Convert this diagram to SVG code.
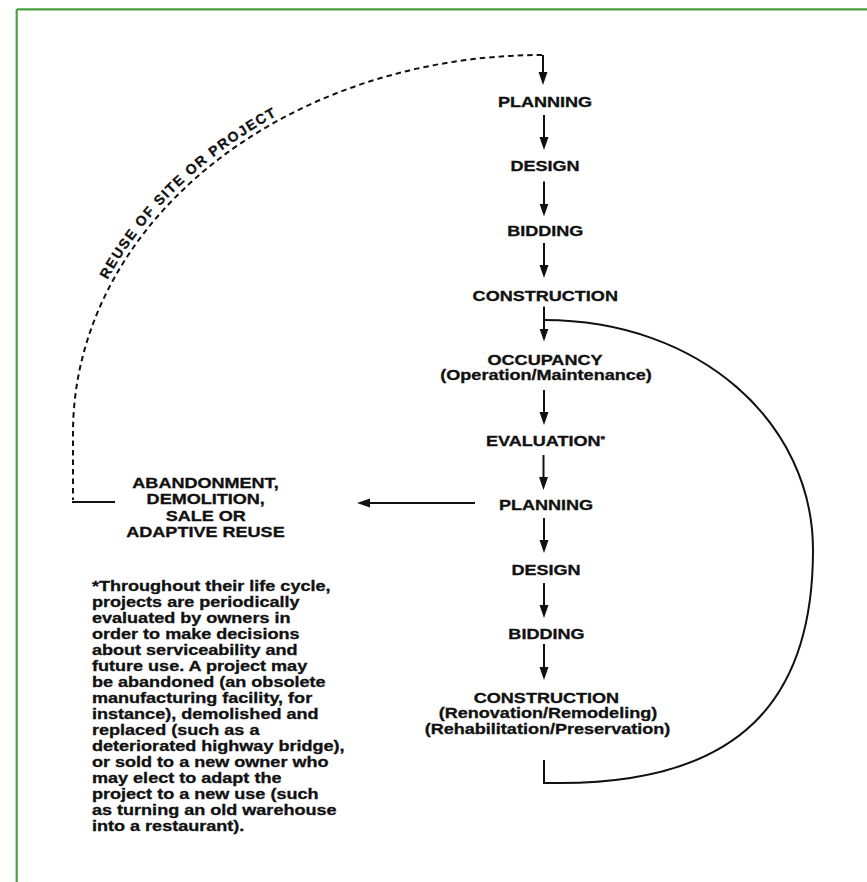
<svg xmlns="http://www.w3.org/2000/svg" width="867" height="882" viewBox="0 0 867 882">
<style>
.t{font-family:"Liberation Sans",Arial,Helvetica,sans-serif;font-weight:bold;font-size:14px;fill:#111;stroke:#111;stroke-width:0.3}
.c{text-anchor:middle}
.ln{stroke:#111;stroke-width:2;fill:none}
.dash{stroke:#111;stroke-width:2;fill:none;stroke-dasharray:5.5 4}
.arr{stroke:#111;stroke-width:2;fill:none;marker-end:url(#ah)}
</style>
<defs>
<marker id="ah" markerUnits="userSpaceOnUse" markerWidth="14" markerHeight="10" refX="5" refY="4.5" orient="auto">
<path d="M0,0 L13,4.5 L0,9 Z" fill="#111"/>
</marker>
<path id="arcText" d="M 68,433 A 474,383 0 0 1 542,50"/>
</defs>
<rect width="867" height="882" fill="#fff"/>
<g id="frame" stroke="#4a9f45" stroke-width="2.2" fill="none">
<line x1="16.7" y1="9.3" x2="867" y2="9.3"/>
<line x1="16.7" y1="9.3" x2="16.7" y2="882"/>
</g>
<g id="connectors">
<path class="dash" d="M 542,55 A 469,378 0 0 0 73,433 L 73,500"/>
<line class="ln" x1="72" y1="502" x2="115" y2="502"/>
<line class="arr" x1="543" y1="55" x2="543" y2="77"/>
<line class="arr" x1="544" y1="115" x2="544" y2="142"/>
<line class="arr" x1="544" y1="181.5" x2="544" y2="208.5"/>
<line class="arr" x1="544" y1="243" x2="544" y2="270"/>
<line class="arr" x1="544" y1="306.5" x2="544" y2="333.5"/>
<line class="arr" x1="544" y1="390" x2="544" y2="417"/>
<line class="arr" x1="543.5" y1="455" x2="543.5" y2="482"/>
<line class="arr" x1="544" y1="518" x2="544" y2="545"/>
<line class="arr" x1="544" y1="583" x2="544" y2="610"/>
<line class="arr" x1="544" y1="644" x2="544" y2="672"/>
<line class="arr" x1="475" y1="503" x2="365" y2="503"/>
<path class="ln" d="M 544,320 C 700,320 813,423 813,550 C 813,700 740,783 560,783 L 544,783 L 544,760"/>
</g>
<g id="reuse-label">
<text class="t" letter-spacing="1.6"><textPath href="#arcText" startOffset="160">REUSE OF SITE OR PROJECT</textPath></text>
</g>
<g transform="scale(1.29,1)">
<g id="planning1"><text class="t c" x="422.5" y="107.5">PLANNING</text></g>
<g id="design1"><text class="t c" x="422.5" y="171.5">DESIGN</text></g>
<g id="bidding1"><text class="t c" x="422.7" y="236">BIDDING</text></g>
<g id="construction1"><text class="t c" x="422.7" y="301">CONSTRUCTION</text></g>
<g id="occupancy"><text class="t c" x="422.5" y="365">OCCUPANCY</text><text class="t c" x="423.3" y="380">(Operation/Maintenance)</text></g>
<g id="evaluation"><text class="t" x="376.7" y="446">EVALUATION<tspan font-size="9" dy="-4">*</tspan></text></g>
<g id="planning2"><text class="t c" x="423.3" y="510">PLANNING</text></g>
<g id="design2"><text class="t c" x="423.3" y="575">DESIGN</text></g>
<g id="bidding2"><text class="t c" x="423.6" y="639">BIDDING</text></g>
<g id="construction2"><text class="t c" x="423.6" y="703">CONSTRUCTION</text><text class="t c" x="424.8" y="718.5">(Renovation/Remodeling)</text><text class="t c" x="424.4" y="734.5">(Rehabilitation/Preservation)</text></g>
<g id="abandonment"><text class="t c" x="159.3" y="488.5">ABANDONMENT,</text><text class="t c" x="159.5" y="504.5">DEMOLITION,</text><text class="t c" x="159.5" y="521">SALE OR</text><text class="t c" x="159.3" y="537.5">ADAPTIVE REUSE</text></g>
<g id="footnote">
<text class="t" x="71.3" y="591">*Throughout their life cycle,</text>
<text class="t" x="71.3" y="607">projects are periodically</text>
<text class="t" x="71.3" y="623">evaluated by owners in</text>
<text class="t" x="71.3" y="639">order to make decisions</text>
<text class="t" x="71.3" y="655.5">about serviceability and</text>
<text class="t" x="71.3" y="671.5">future use. A project may</text>
<text class="t" x="71.3" y="687.5">be abandoned (an obsolete</text>
<text class="t" x="71.3" y="703">manufacturing facility, for</text>
<text class="t" x="71.3" y="719">instance), demolished and</text>
<text class="t" x="71.3" y="735.5">replaced (such as a</text>
<text class="t" x="71.3" y="751.5">deteriorated highway bridge),</text>
<text class="t" x="71.3" y="767">or sold to a new owner who</text>
<text class="t" x="71.3" y="783">may elect to adapt the</text>
<text class="t" x="71.3" y="799">project to a new use (such</text>
<text class="t" x="71.3" y="815">as turning an old warehouse</text>
<text class="t" x="71.3" y="831">into a restaurant).</text>
</g>
</g>
</svg>
